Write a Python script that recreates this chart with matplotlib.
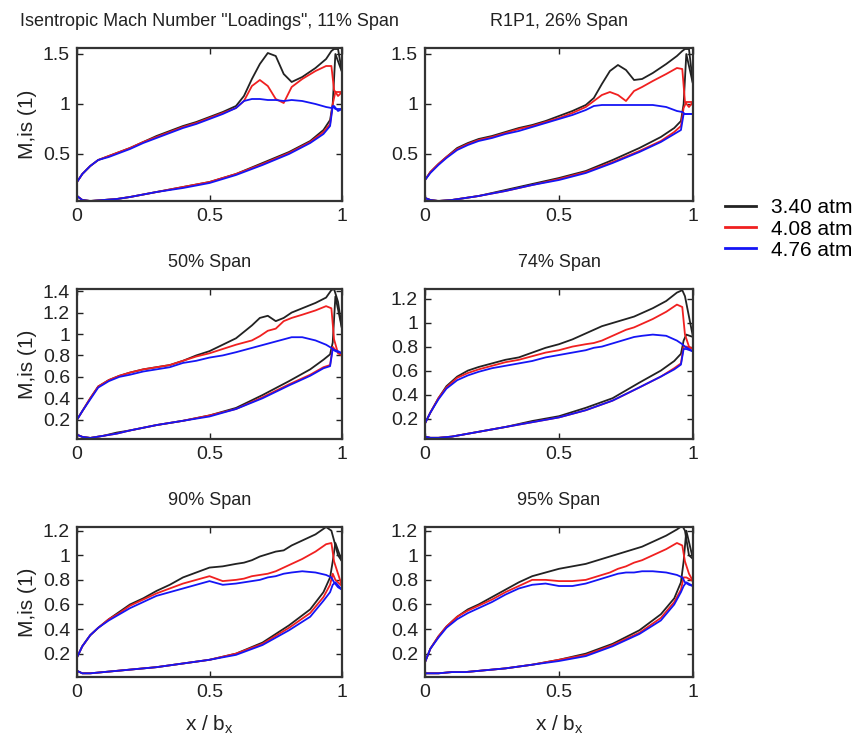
import matplotlib
matplotlib.use("Agg")
import matplotlib.pyplot as plt
from matplotlib.lines import Line2D

plt.rcParams['font.family'] = ['Liberation Sans', 'DejaVu Sans']

# chordwise stations (suction side and pressure side)
SS_X = [0.0, 0.02, 0.05, 0.08, 0.12, 0.16, 0.2, 0.25, 0.3, 0.35, 0.4, 0.45, 0.5, 0.55, 0.6,
        0.63, 0.66, 0.69, 0.72, 0.75, 0.78, 0.81, 0.85, 0.9, 0.94, 0.96, 0.97, 0.985, 1.0]
PS_X = [0.0, 0.02, 0.05, 0.1, 0.15, 0.2, 0.3, 0.4, 0.5, 0.6, 0.7, 0.8, 0.88, 0.93, 0.955,
        0.965, 0.975, 1.0]

pressures = ['3.40 atm', '4.08 atm', '4.76 atm']
colors = ['#222222', '#f02020', '#1515f5']

titles = ['Isentropic Mach Number "Loadings", 11% Span', 'R1P1, 26% Span',
          '50% Span', '74% Span', '90% Span', '95% Span']

# suction side: [3.40, 4.08, 4.76]
ss_11 = [[0.22, 0.30, 0.38, 0.44, 0.48, 0.52, 0.56, 0.62, 0.68, 0.73, 0.78, 0.82, 0.87, 0.92, 0.98,
          1.08, 1.25, 1.40, 1.51, 1.48, 1.30, 1.22, 1.27, 1.36, 1.45, 1.53, 1.55, 1.55, 1.32],
         [0.22, 0.30, 0.38, 0.44, 0.48, 0.52, 0.56, 0.62, 0.67, 0.72, 0.77, 0.81, 0.86, 0.91, 0.96,
          1.03, 1.18, 1.24, 1.18, 1.05, 1.01, 1.17, 1.25, 1.33, 1.38, 1.38, 1.14, 1.08, 1.12],
         [0.22, 0.30, 0.38, 0.44, 0.47, 0.51, 0.55, 0.61, 0.66, 0.71, 0.76, 0.80, 0.85, 0.90, 0.96,
          1.03, 1.05, 1.05, 1.04, 1.04, 1.03, 1.04, 1.03, 1.00, 0.97, 0.96, 0.98, 0.93, 0.95]]
ps_11 = [[0.08, 0.04, 0.03, 0.04, 0.05, 0.07, 0.12, 0.17, 0.22, 0.30, 0.41, 0.52, 0.63, 0.74, 0.84, 1.00, 1.50, 1.32],
         [0.08, 0.04, 0.03, 0.04, 0.05, 0.07, 0.12, 0.17, 0.22, 0.30, 0.40, 0.51, 0.62, 0.72, 0.80, 1.00, 1.12, 1.12],
         [0.08, 0.04, 0.03, 0.04, 0.05, 0.07, 0.12, 0.16, 0.21, 0.29, 0.39, 0.50, 0.61, 0.70, 0.78, 0.98, 0.95, 0.95]]

ss_26 = [[0.24, 0.32, 0.40, 0.47, 0.56, 0.61, 0.65, 0.68, 0.72, 0.76, 0.79, 0.83, 0.88, 0.93, 0.99,
          1.06, 1.20, 1.33, 1.39, 1.34, 1.24, 1.25, 1.31, 1.40, 1.48, 1.53, 1.55, 1.55, 1.20],
         [0.24, 0.32, 0.40, 0.47, 0.55, 0.60, 0.64, 0.67, 0.71, 0.75, 0.78, 0.82, 0.86, 0.91, 0.97,
          1.03, 1.09, 1.12, 1.09, 1.03, 1.13, 1.17, 1.23, 1.30, 1.36, 1.35, 1.02, 0.97, 1.02],
         [0.24, 0.31, 0.39, 0.46, 0.54, 0.59, 0.63, 0.66, 0.70, 0.73, 0.77, 0.81, 0.85, 0.89, 0.94,
          0.98, 0.99, 0.99, 0.99, 0.99, 0.99, 0.99, 0.99, 0.97, 0.93, 0.92, 0.90, 0.90, 0.90]]
ps_26 = [[0.06, 0.04, 0.03, 0.04, 0.06, 0.08, 0.14, 0.20, 0.26, 0.33, 0.44, 0.56, 0.67, 0.76, 0.83, 1.00, 1.50, 1.20],
         [0.06, 0.04, 0.03, 0.04, 0.06, 0.08, 0.13, 0.19, 0.25, 0.32, 0.42, 0.53, 0.63, 0.72, 0.78, 0.96, 1.02, 1.02],
         [0.06, 0.04, 0.03, 0.04, 0.06, 0.08, 0.13, 0.19, 0.24, 0.31, 0.41, 0.52, 0.62, 0.70, 0.74, 0.90, 0.90, 0.90]]

ss_50 = [[0.20, 0.28, 0.40, 0.51, 0.57, 0.61, 0.64, 0.67, 0.69, 0.71, 0.75, 0.80, 0.84, 0.90, 0.96,
          1.02, 1.08, 1.15, 1.17, 1.12, 1.15, 1.20, 1.24, 1.29, 1.34, 1.41, 1.42, 1.30, 1.05],
         [0.20, 0.28, 0.40, 0.51, 0.57, 0.61, 0.64, 0.67, 0.69, 0.71, 0.75, 0.79, 0.82, 0.86, 0.90,
          0.92, 0.94, 0.98, 1.03, 1.05, 1.12, 1.15, 1.18, 1.22, 1.26, 1.24, 0.95, 0.82, 0.80],
         [0.20, 0.28, 0.39, 0.50, 0.56, 0.60, 0.62, 0.65, 0.67, 0.69, 0.73, 0.75, 0.78, 0.80, 0.83,
          0.85, 0.87, 0.89, 0.91, 0.93, 0.95, 0.97, 0.97, 0.94, 0.90, 0.87, 0.85, 0.84, 0.82]]
ps_50 = [[0.06, 0.04, 0.03, 0.05, 0.08, 0.10, 0.15, 0.19, 0.24, 0.31, 0.43, 0.56, 0.67, 0.76, 0.81, 0.92, 1.35, 1.05],
         [0.06, 0.04, 0.03, 0.05, 0.07, 0.10, 0.15, 0.19, 0.24, 0.30, 0.41, 0.53, 0.62, 0.69, 0.71, 0.88, 0.85, 0.80],
         [0.06, 0.04, 0.03, 0.05, 0.07, 0.10, 0.15, 0.19, 0.23, 0.30, 0.40, 0.52, 0.61, 0.68, 0.70, 0.86, 0.84, 0.82]]

ss_74 = [[0.16, 0.25, 0.37, 0.47, 0.55, 0.60, 0.63, 0.66, 0.69, 0.71, 0.75, 0.79, 0.82, 0.86, 0.91,
          0.94, 0.97, 0.99, 1.01, 1.03, 1.05, 1.08, 1.12, 1.18, 1.25, 1.27, 1.22, 1.05, 0.88],
         [0.16, 0.25, 0.37, 0.46, 0.54, 0.58, 0.61, 0.64, 0.67, 0.69, 0.72, 0.75, 0.77, 0.80, 0.82,
          0.83, 0.85, 0.88, 0.91, 0.94, 0.96, 0.99, 1.03, 1.09, 1.15, 1.13, 0.90, 0.80, 0.78],
         [0.16, 0.25, 0.36, 0.45, 0.52, 0.56, 0.59, 0.62, 0.64, 0.66, 0.68, 0.71, 0.73, 0.75, 0.77,
          0.79, 0.80, 0.82, 0.84, 0.86, 0.88, 0.89, 0.90, 0.89, 0.85, 0.82, 0.80, 0.78, 0.76]]
ps_74 = [[0.05, 0.04, 0.04, 0.05, 0.07, 0.09, 0.13, 0.18, 0.22, 0.29, 0.37, 0.50, 0.60, 0.68, 0.74, 0.85, 0.90, 0.88],
         [0.05, 0.04, 0.04, 0.05, 0.07, 0.09, 0.13, 0.17, 0.21, 0.27, 0.35, 0.46, 0.55, 0.62, 0.66, 0.80, 0.80, 0.78],
         [0.05, 0.04, 0.04, 0.05, 0.07, 0.09, 0.13, 0.17, 0.21, 0.27, 0.35, 0.46, 0.55, 0.61, 0.65, 0.78, 0.78, 0.76]]

ss_90 = [[0.17, 0.26, 0.35, 0.41, 0.48, 0.54, 0.60, 0.65, 0.71, 0.76, 0.82, 0.86, 0.90, 0.91, 0.93,
          0.94, 0.96, 0.99, 1.01, 1.03, 1.04, 1.08, 1.12, 1.17, 1.23, 1.20, 1.12, 1.00, 0.95],
         [0.17, 0.26, 0.35, 0.41, 0.48, 0.53, 0.59, 0.64, 0.69, 0.73, 0.77, 0.80, 0.83, 0.79, 0.80,
          0.81, 0.83, 0.84, 0.85, 0.87, 0.90, 0.93, 0.97, 1.03, 1.09, 1.10, 0.95, 0.85, 0.75],
         [0.17, 0.26, 0.35, 0.41, 0.47, 0.52, 0.57, 0.62, 0.67, 0.70, 0.73, 0.76, 0.79, 0.76, 0.77,
          0.78, 0.79, 0.80, 0.82, 0.83, 0.85, 0.86, 0.87, 0.86, 0.84, 0.82, 0.78, 0.74, 0.72]]
ps_90 = [[0.06, 0.04, 0.04, 0.05, 0.06, 0.07, 0.09, 0.12, 0.15, 0.20, 0.29, 0.43, 0.56, 0.70, 0.82, 0.95, 1.10, 0.95],
         [0.06, 0.04, 0.04, 0.05, 0.06, 0.07, 0.09, 0.12, 0.15, 0.20, 0.28, 0.41, 0.53, 0.66, 0.76, 0.85, 0.80, 0.75],
         [0.06, 0.04, 0.04, 0.05, 0.06, 0.07, 0.09, 0.12, 0.15, 0.19, 0.27, 0.39, 0.50, 0.63, 0.70, 0.76, 0.78, 0.72]]

ss_95 = [[0.13, 0.24, 0.34, 0.42, 0.50, 0.56, 0.60, 0.66, 0.72, 0.78, 0.83, 0.86, 0.89, 0.91, 0.93,
          0.95, 0.97, 0.99, 1.01, 1.03, 1.05, 1.07, 1.11, 1.16, 1.21, 1.24, 1.20, 1.00, 0.97],
         [0.13, 0.24, 0.34, 0.42, 0.50, 0.55, 0.59, 0.64, 0.70, 0.75, 0.80, 0.80, 0.79, 0.79, 0.80,
          0.82, 0.84, 0.86, 0.89, 0.91, 0.94, 0.96, 1.00, 1.05, 1.10, 1.08, 0.95, 0.85, 0.79],
         [0.13, 0.24, 0.33, 0.41, 0.48, 0.53, 0.57, 0.62, 0.68, 0.73, 0.76, 0.77, 0.75, 0.75, 0.77,
          0.79, 0.81, 0.83, 0.85, 0.86, 0.86, 0.87, 0.87, 0.86, 0.84, 0.82, 0.78, 0.76, 0.75]]
ps_95 = [[0.04, 0.04, 0.04, 0.05, 0.05, 0.06, 0.08, 0.11, 0.15, 0.20, 0.28, 0.39, 0.52, 0.65, 0.78, 0.95, 1.20, 0.97],
         [0.04, 0.04, 0.04, 0.05, 0.05, 0.06, 0.08, 0.11, 0.15, 0.19, 0.27, 0.37, 0.49, 0.62, 0.72, 0.82, 0.82, 0.79],
         [0.04, 0.04, 0.04, 0.05, 0.05, 0.06, 0.08, 0.11, 0.14, 0.18, 0.26, 0.36, 0.47, 0.60, 0.70, 0.75, 0.78, 0.75]]

suction = [ss_11, ss_26, ss_50, ss_74, ss_90, ss_95]
pressure = [ps_11, ps_26, ps_50, ps_74, ps_90, ps_95]

ylims = [(0.03, 1.56), (0.03, 1.56), (0.02, 1.42), (0.03, 1.28), (0.01, 1.23), (0.01, 1.23)]
yticks = [[0.5, 1, 1.5], [0.5, 1, 1.5], [0.2, 0.4, 0.6, 0.8, 1, 1.2, 1.4],
          [0.2, 0.4, 0.6, 0.8, 1, 1.2], [0.2, 0.4, 0.6, 0.8, 1, 1.2], [0.2, 0.4, 0.6, 0.8, 1, 1.2]]

W, H = 860, 752
fig = plt.figure(figsize=(W / 100, H / 100), dpi=100)

lefts = [77, 425]
widths = [265, 268]
tops = [48, 289, 527]
heights = [153, 150, 150]

for i in range(6):
    r, c = i // 2, i % 2
    ax = fig.add_axes([lefts[c] / W, 1 - (tops[r] + heights[r]) / H, widths[c] / W, heights[r] / H])
    for k in range(3):
        ax.plot(SS_X, suction[i][k], color=colors[k], lw=1.3)
        ax.plot(PS_X, pressure[i][k], color=colors[k], lw=1.3)
    ax.set_xlim(0, 1)
    ax.set_ylim(*ylims[i])
    ax.set_xticks([0, 0.5, 1])
    ax.set_xticklabels(['0', '0.5', '1'])
    ax.set_yticks(yticks[i])
    ax.set_yticklabels([('%g' % t) for t in yticks[i]])
    ax.tick_params(direction='in', length=4, width=1, top=True, right=True,
                   labelsize=14, pad=5, colors='#222222')
    for s in ax.spines.values():
        s.set_linewidth(1.6)
        s.set_color('#333333')
    ax.set_title(titles[i], fontsize=13, pad=16, color='#222222')
    if c == 0:
        ax.set_ylabel('M,is (1)', fontsize=15, labelpad=4, color='#222222')
    if r == 2:
        ax.set_xlabel('x / b$_\\mathregular{x}$', fontsize=15, labelpad=9, color='#222222')

handles = [Line2D([], [], color=colors[k], lw=2) for k in range(3)]
fig.legend(handles, pressures, loc='center left', bbox_to_anchor=(706 / W, 1 - 229 / H),
           frameon=False, fontsize=15, handlelength=1.5, handletextpad=0.7, labelspacing=0.1)

fig.savefig('out.png', dpi=100)
